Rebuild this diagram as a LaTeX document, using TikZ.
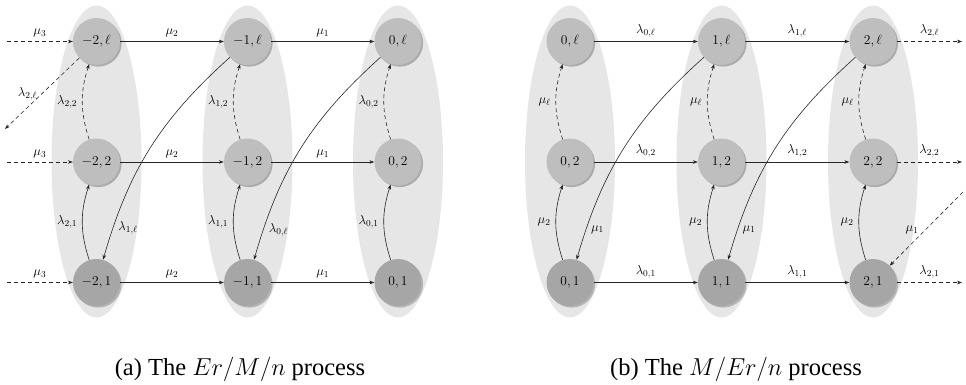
\RequirePackage{fix-cm}
\documentclass[tikz,border=0pt]{standalone}
\usepackage{fontspec}
\newfontfamily\capfont{Liberation Serif}
\usetikzlibrary{arrows.meta,shadows}
\definecolor{ellc}{HTML}{E6E6E6}
\definecolor{nlight}{HTML}{BEBEBE}
\definecolor{ndark}{HTML}{A6A6A6}
\definecolor{nshadow}{HTML}{ABABAB}
\definecolor{dshadow}{HTML}{B4B4B4}
\begin{document}
\begin{tikzpicture}[x=1pt,y=1pt,
  st/.style={circle, minimum size=47pt, inner sep=0pt, font=\fontsize{13.5}{16}\selectfont},
  stl/.style={st, fill=nlight, drop shadow={shadow xshift=1.6pt, shadow yshift=-1.6pt, opacity=1, fill=nshadow}},
  std/.style={st, fill=ndark, drop shadow={shadow xshift=1.6pt, shadow yshift=-1.6pt, opacity=1, fill=dshadow}},
  arr/.style={-{Stealth[length=5pt,width=3.6pt]}, line width=0.6pt, draw=black!85},
  dsh/.style={arr, dash pattern=on 4pt off 3pt},
  lab/.style={font=\fontsize{13}{15}\selectfont, inner sep=1pt},
  hl/.style={lab, midway, above=3pt},
  vl/.style={lab, midway, left=4pt},
  ell/.style={fill=ellc}]
\useasboundingbox (0,0) rectangle (966,384);
% ellipses
\foreach \cx in {96.5,247.5,398,570,721.5,873}
  \fill[ell] (\cx,222.5) ellipse [x radius=45, y radius=156];
% left states
\node[stl] (a2l) at (96.5,342.5) {$-2,\ell$};
\node[stl] (a1l) at (247.5,342.5) {$-1,\ell$};
\node[stl] (a0l) at (398,342.5) {$0,\ell$};
\node[stl] (a22) at (96.5,222) {$-2,2$};
\node[stl] (a12) at (247.5,222) {$-1,2$};
\node[stl] (a02) at (398,222) {$0,2$};
\node[std] (a21) at (96.5,101.5) {$-2,1$};
\node[std] (a11) at (247.5,101.5) {$-1,1$};
\node[std] (a01) at (398,101.5) {$0,1$};
% right states
\node[stl] (b0l) at (570,342.5) {$0,\ell$};
\node[stl] (b1l) at (721.5,342.5) {$1,\ell$};
\node[stl] (b2l) at (873,342.5) {$2,\ell$};
\node[stl] (b02) at (570,222) {$0,2$};
\node[stl] (b12) at (721.5,222) {$1,2$};
\node[stl] (b22) at (873,222) {$2,2$};
\node[std] (b01) at (570,101.5) {$0,1$};
\node[std] (b11) at (721.5,101.5) {$1,1$};
\node[std] (b21) at (873,101.5) {$2,1$};
% free ends
\coordinate (ina) at (7,342.5);
\coordinate (inb) at (7,222);
\coordinate (inc) at (7,101.5);
\coordinate (dl) at (5,255);
\coordinate (outa) at (962,342.5);
\coordinate (outb) at (962,222);
\coordinate (outc) at (962,101.5);
\coordinate (dr) at (963,192);
% left: horizontal
\draw[dsh] (ina) -- node[hl]{$\mu_3$} (a2l);
\draw[dsh] (inb) -- node[hl]{$\mu_3$} (a22);
\draw[dsh] (inc) -- node[hl]{$\mu_3$} (a21);
\draw[arr] (a2l) -- node[hl]{$\mu_2$} (a1l);
\draw[arr] (a22) -- node[hl]{$\mu_2$} (a12);
\draw[arr] (a21) -- node[hl]{$\mu_2$} (a11);
\draw[arr] (a1l) -- node[hl]{$\mu_1$} (a0l);
\draw[arr] (a12) -- node[hl]{$\mu_1$} (a02);
\draw[arr] (a11) -- node[hl]{$\mu_1$} (a01);
% left: vertical
\draw[dsh] (a22) to[bend left=18] node[vl]{$\lambda_{2,2}$} (a2l);
\draw[arr] (a21) to[bend left=18] node[vl]{$\lambda_{2,1}$} (a22);
\draw[dsh] (a12) to[bend left=18] node[vl]{$\lambda_{1,2}$} (a1l);
\draw[arr] (a11) to[bend left=18] node[vl]{$\lambda_{1,1}$} (a12);
\draw[dsh] (a02) to[bend left=18] node[vl]{$\lambda_{0,2}$} (a0l);
\draw[arr] (a01) to[bend left=18] node[vl]{$\lambda_{0,1}$} (a02);
% left: long and diagonal
\draw[arr] (a1l) to[bend right=16] (a21);
\node[lab] (la1) at (128,156) {$\lambda_{1,\ell}$};
\draw[arr] (a0l) to[bend right=16] (a11);
\node[lab] (la2) at (278.5,154.5) {$\lambda_{0,\ell}$};
\draw[dsh] (a2l) -- (dl);
\node[lab] (la3) at (27.5,290) {$\lambda_{2,\ell}$};
% right: horizontal
\draw[arr] (b0l) -- node[hl]{$\lambda_{0,\ell}$} (b1l);
\draw[arr] (b02) -- node[hl]{$\lambda_{0,2}$} (b12);
\draw[arr] (b01) -- node[hl]{$\lambda_{0,1}$} (b11);
\draw[arr] (b1l) -- node[hl]{$\lambda_{1,\ell}$} (b2l);
\draw[arr] (b12) -- node[hl]{$\lambda_{1,2}$} (b22);
\draw[arr] (b11) -- node[hl]{$\lambda_{1,1}$} (b21);
\draw[dsh] (b2l) -- node[hl]{$\lambda_{2,\ell}$} (outa);
\draw[dsh] (b22) -- node[hl]{$\lambda_{2,2}$} (outb);
\draw[dsh] (b21) -- node[hl]{$\lambda_{2,1}$} (outc);
% right: vertical
\draw[dsh] (b02) to[bend left=18] node[vl]{$\mu_\ell$} (b0l);
\draw[arr] (b01) to[bend left=18] node[vl]{$\mu_2$} (b02);
\draw[dsh] (b12) to[bend left=18] node[vl]{$\mu_\ell$} (b1l);
\draw[arr] (b11) to[bend left=18] node[vl]{$\mu_2$} (b12);
\draw[dsh] (b22) to[bend left=18] node[vl]{$\mu_\ell$} (b2l);
\draw[arr] (b21) to[bend left=18] node[vl]{$\mu_2$} (b22);
% right: long and diagonal
\draw[arr] (b1l) to[bend right=16] (b01);
\node[lab] (lb1) at (597.5,154.5) {$\mu_1$};
\draw[arr] (b2l) to[bend right=16] (b11);
\node[lab] (lb2) at (749,154.5) {$\mu_1$};
\draw[dsh] (dr) -- (b21);
\node[lab] (lb3) at (912,154) {$\mu_1$};
% captions
\node[anchor=base, inner sep=0pt] (capa) at (240,9) {\capfont\fontsize{24.5}{28}\selectfont (a) The $Er/M/n$ process};
\node[anchor=base, inner sep=0pt] (capb) at (736,9) {\capfont\fontsize{24.5}{28}\selectfont (b) The $M/Er/n$ process};
\end{tikzpicture}
\end{document}
